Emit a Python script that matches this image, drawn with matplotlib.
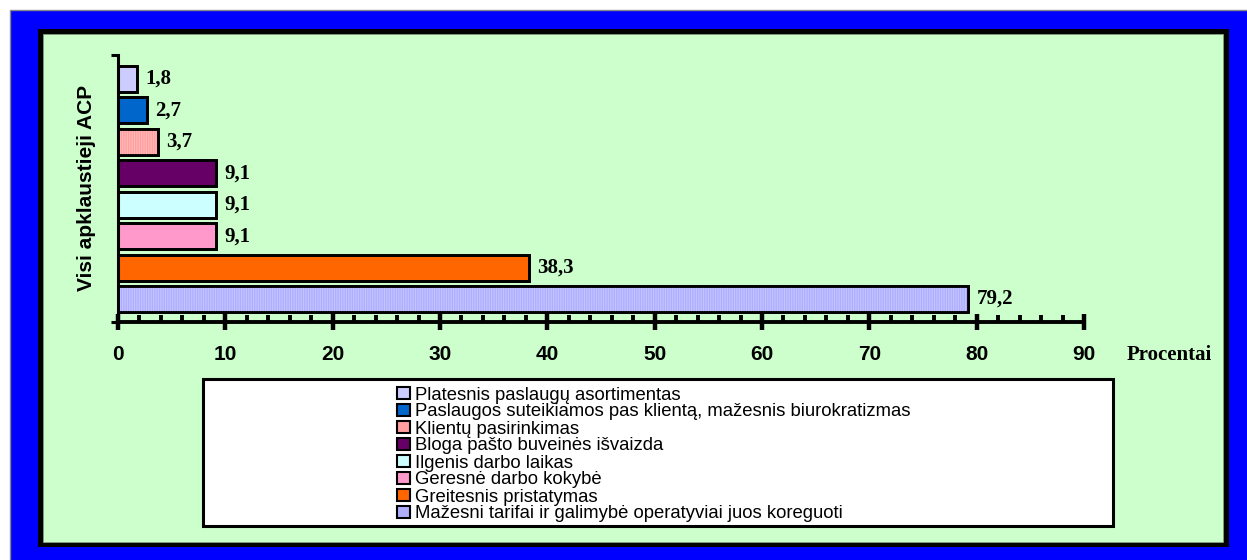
import numpy as np
import matplotlib
matplotlib.use("Agg")
import matplotlib.pyplot as plt
from matplotlib.patches import Rectangle, Patch

# data, bottom bar first
categories = [
    "Mažesni tarifai ir galimybė operatyviai juos koreguoti",
    "Greitesnis pristatymas",
    "Geresnė darbo kokybė",
    "Ilgenis darbo laikas",
    "Bloga pašto buveinės išvaizda",
    "Klientų pasirinkimas",
    "Paslaugos suteikiamos pas klientą, mažesnis biurokratizmas",
    "Platesnis paslaugų asortimentas",
]
values = [79.2, 38.3, 9.1, 9.1, 9.1, 3.7, 2.7, 1.8]
colors = ["#AEAEFF", "#FF6600", "#FF99CC", "#CCFFFF", "#660066", "#FF9F9F", "#0066CC", "#CCCCFF"]
striped = [True, False, False, False, False, True, False, False]
stripe_colors = ["#C4C4FF", None, None, None, None, "#FFB8B8", None, None]
x_ticks = [0, 10, 20, 30, 40, 50, 60, 70, 80, 90]

W, H = 1247, 560
fig = plt.figure(figsize=(W / 100, H / 100), dpi=100)
fig.patch.set_facecolor("white")

# frame: blue band, black border, green inner area
fig.patches.append(Rectangle((10 / W, -0.01), 1.02, 550 / H + 0.01, transform=fig.transFigure,
                             facecolor="#0000FF", edgecolor="#888888", linewidth=1, zorder=-3))
fig.patches.append(Rectangle((38 / W, 13 / H), (1229 - 38) / W, (547 - 29) / H, transform=fig.transFigure,
                             facecolor="black", edgecolor="none", zorder=-2))
fig.patches.append(Rectangle((43 / W, 18 / H), (1223 - 43) / W, (542 - 34) / H, transform=fig.transFigure,
                             facecolor="#CCFFCC", edgecolor="#7FA07F", linewidth=0.6, zorder=-1))
# legend box
fig.patches.append(Rectangle((203 / W, (560 - 526) / H), (1113 - 203) / W, (526 - 379) / H,
                             transform=fig.transFigure, facecolor="white", edgecolor="black",
                             linewidth=2.2, zorder=1))

ax = fig.add_axes([118 / W, (560 - 322) / H, (1084 - 118) / W, (322 - 55) / H])
ax.set_facecolor("none")
ax.set_zorder(2)

y = np.arange(len(values))
bars = ax.barh(y, values, height=0.83, color=colors, edgecolor="black", linewidth=2.0, zorder=2)

# fine vertical stripes on two of the bars
plt.rcParams["hatch.linewidth"] = 0.8
for i in range(len(values)):
    if striped[i]:
        ax.barh(y[i], values[i], height=0.83, color="none", edgecolor=stripe_colors[i],
                hatch="|" * 7, linewidth=0, zorder=3)
ax.barh(y, values, height=0.83, color="none", edgecolor="black", linewidth=2.0, zorder=4)

labels = [f"{v:.1f}".replace(".", ",") for v in values]
ax.bar_label(bars, labels=labels, padding=6, fontsize=15, fontweight="bold",
             family="Liberation Serif", color="black")

ax.set_xlim(0, 90)
ax.set_ylim(-0.73, 7.76)
ax.set_xticks(x_ticks)
ax.set_xticks(np.arange(0, 91, 2), minor=True)
ax.set_xticklabels([str(t) for t in x_ticks], fontsize=15, fontweight="bold", family="Liberation Sans")
ax.tick_params(axis="x", which="major", direction="inout", length=12, width=3.2, pad=10.5)
ax.tick_params(axis="x", which="minor", direction="in", length=5, width=2.8)
ax.set_yticks(list(ax.get_ylim()))
ax.set_yticklabels([])
ax.tick_params(axis="y", direction="out", length=5, width=2.2)

for s in ["top", "right"]:
    ax.spines[s].set_visible(False)
ax.spines["left"].set_linewidth(2.2)
ax.spines["bottom"].set_linewidth(2.8)

fig.text(87 / W, 1 - 188 / H, "Visi apklaustieji ACP", rotation=90, ha="center", va="center",
         fontsize=15, fontweight="bold", family="Liberation Sans")
fig.text(1169 / W, 1 - 355 / H, "Procentai", ha="center", va="center",
         fontsize=15, fontweight="bold", family="Liberation Serif")

# legend, top entry first
handles = [Patch(facecolor=colors[i], edgecolor="black", linewidth=1.5) for i in range(len(values))][::-1]
leg = fig.legend(handles, categories[::-1], loc="center left", bbox_to_anchor=(397 / W, 1 - 454.5 / H),
                 frameon=False, prop={"family": "Liberation Sans", "size": 13.3},
                 handlelength=0.68, handleheight=0.68, handletextpad=0.3, labelspacing=0.0,
                 borderpad=0, borderaxespad=0)
leg.set_zorder(5)

fig.savefig("out.png", dpi=100, facecolor=fig.get_facecolor())
